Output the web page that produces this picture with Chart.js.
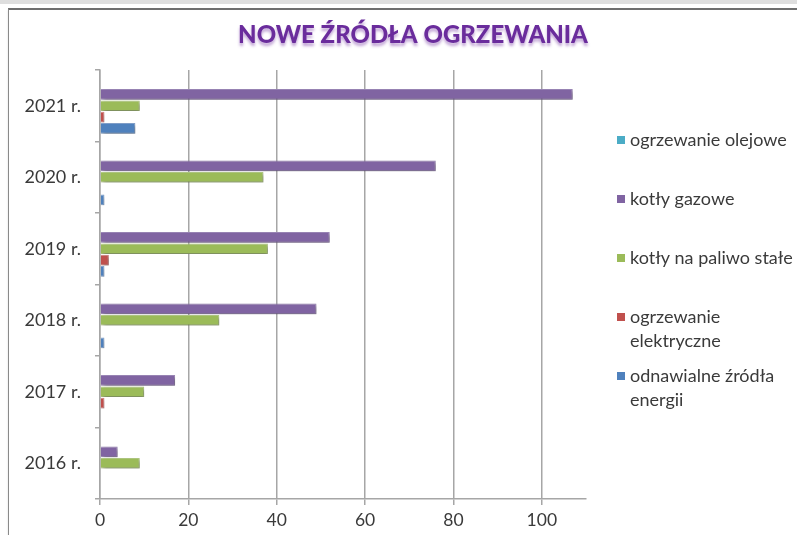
<!DOCTYPE html>
<html lang="pl">
<head>
<meta charset="utf-8">
<title>Nowe źródła ogrzewania</title>
<script src="https://cdn.jsdelivr.net/npm/chart.js@4.4.1/dist/chart.umd.min.js"></script>
<style>
  html, body { margin: 0; padding: 0; background: #fff; }
  #wrap { position: relative; width: 797px; height: 535px; overflow: hidden; }
  #band { position: absolute; left: 0; top: 0; width: 797px; height: 4px; background: #dedede; }
  #frame { position: absolute; left: 8px; top: 8px; width: 820px; height: 560px;
           border-left: 1px solid #8a8a8a; border-top: 2px solid #6e6e6e;
           box-shadow: 0 2px 2px rgba(0,0,0,0.12); }
  canvas { position: absolute; left: 0; top: 0; }
</style>
</head>
<body>
<div id="wrap">
  <div id="band"></div>
  <div id="frame"></div>
  <canvas id="heat" width="797" height="535"></canvas>
</div>
<script>
const years = ['2021 r.', '2020 r.', '2019 r.', '2018 r.', '2017 r.', '2016 r.'];
const olejowe = [0, 0, 0, 0, 0, 0];
const gazowe = [107, 76, 52, 49, 17, 4];
const paliwoStale = [9, 37, 38, 27, 10, 9];
const elektryczne = [1, 0, 2, 0, 1, 0];
const odnawialne = [8, 1, 1, 1, 0, 0];
const xTicks = [0, 20, 40, 60, 80, 100];

const legendLines = [
    ['ogrzewanie olejowe'],
    ['kotły gazowe'],
    ['kotły na paliwo stałe'],
    ['ogrzewanie', 'elektryczne'],
    ['odnawialne źródła', 'energii']
];
const colors = ['#4BACC6', '#8064A2', '#9BBB59', '#C0504D', '#4F81BD'];
const edges = ['#8ccbdc', '#a08bbd', '#b6cf85', '#d68583', '#86a6d2'];

const FONT = 'Lato, "Open Sans", sans-serif';
const TEXT = '#3a3a3a';

function makeSet(i, data) {
    return {
        label: legendLines[i].join(' '),
        data: data,
        backgroundColor: colors[i],
        borderColor: edges[i],
        borderWidth: 1,
        borderSkipped: 'start',
        categoryPercentage: 0.79,
        barPercentage: 0.95
    };
}

// soft drop shadow under the bars
const barShadow = {
    id: 'barShadow',
    beforeDatasetsDraw(chart) {
        const ctx = chart.ctx;
        ctx.save();
        ctx.shadowColor = 'rgba(0,0,0,0.4)';
        ctx.shadowBlur = 4;
        ctx.shadowOffsetX = 2;
        ctx.shadowOffsetY = 2;
    },
    afterDatasetsDraw(chart) {
        chart.ctx.restore();
    }
};

// title with a purple glow
const heading = {
    id: 'heading',
    afterDraw(chart) {
        const ctx = chart.ctx;
        ctx.save();
        ctx.font = '900 24px ' + FONT;
        ctx.textAlign = 'center';
        ctx.textBaseline = 'middle';
        ctx.shadowColor = 'rgba(112,48,160,0.45)';
        ctx.shadowBlur = 3;
        ctx.shadowOffsetY = 3;
        ctx.fillStyle = '#6a2c9c';
        ctx.fillText('NOWE ŹRÓDŁA OGRZEWANIA', 413, 35);
        ctx.restore();
    }
};

// legend on the right, with wrapped labels
const sideLegend = {
    id: 'sideLegend',
    afterDraw(chart) {
        const ctx = chart.ctx;
        ctx.save();
        ctx.font = '18px ' + FONT;
        ctx.textBaseline = 'middle';
        ctx.textAlign = 'left';
        chart.data.datasets.forEach((ds, i) => {
            const y = 140 + i * 59;
            ctx.fillStyle = ds.backgroundColor;
            ctx.fillRect(617, y - 4, 8, 8);
            ctx.fillStyle = TEXT;
            legendLines[i].forEach((line, j) => {
                ctx.fillText(line, 630, y + j * 24);
            });
        });
        ctx.restore();
    }
};

const ctx = document.getElementById('heat').getContext('2d');
const heatChart = new Chart(ctx, {
    type: 'bar',
    data: {
        labels: years,
        datasets: [
            makeSet(0, olejowe),
            makeSet(1, gazowe),
            makeSet(2, paliwoStale),
            makeSet(3, elektryczne),
            makeSet(4, odnawialne)
        ]
    },
    options: {
        indexAxis: 'y',
        responsive: false,
        animation: false,
        layout: {
            padding: { top: 70, right: 211, left: 0, bottom: 0 }
        },
        scales: {
            x: {
                min: 0,
                max: 110,
                afterBuildTicks: (scale) => {
                    scale.ticks = xTicks.map(v => ({ value: v }));
                },
                afterFit: (scale) => { scale.height = 36; },
                grid: {
                    color: '#a6a6a6',
                    lineWidth: 1.5,
                    tickLength: 6
                },
                border: { color: '#a6a6a6', width: 1.5 },
                ticks: {
                    color: TEXT,
                    padding: 5,
                    font: { family: FONT, size: 17.5 }
                }
            },
            y: {
                afterFit: (scale) => { scale.width = 100; },
                grid: {
                    offset: true,
                    drawOnChartArea: false,
                    color: '#a6a6a6',
                    lineWidth: 1.5,
                    tickLength: 5
                },
                border: { color: '#a6a6a6', width: 1.5 },
                ticks: {
                    color: TEXT,
                    padding: 14,
                    font: { family: FONT, size: 18 }
                }
            }
        },
        plugins: {
            legend: { display: false },
            tooltip: { enabled: false }
        }
    },
    plugins: [barShadow, heading, sideLegend]
});
</script>
</body>
</html>
